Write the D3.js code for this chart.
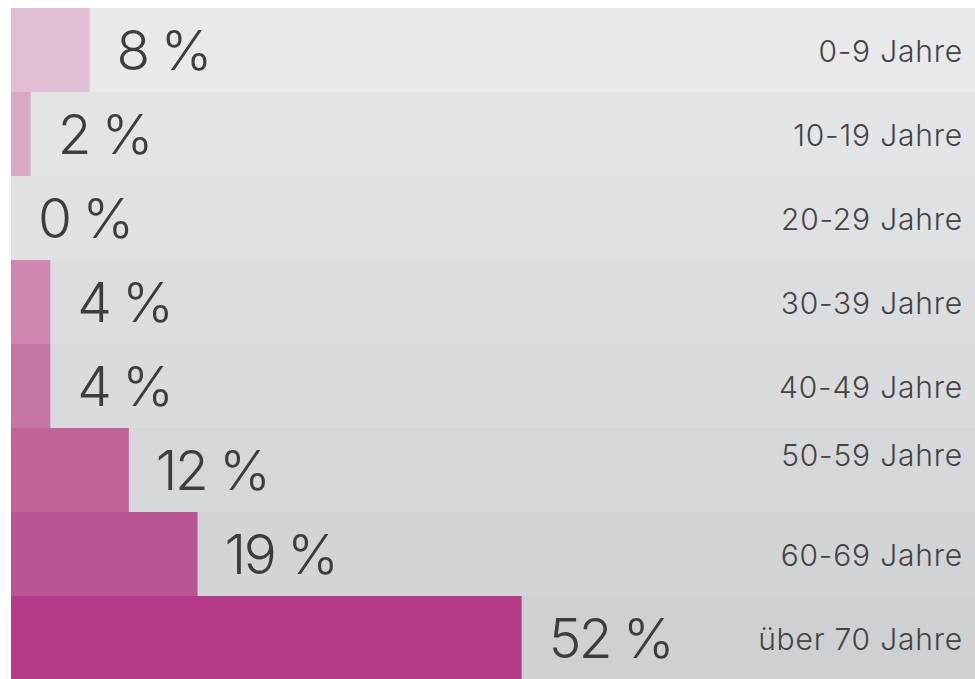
<!DOCTYPE html>
<html>
<head>
<meta charset="utf-8">
<script src="https://cdn.jsdelivr.net/npm/d3@7"></script>
<style>
  html, body { margin: 0; padding: 0; background: #fff; }
  svg { display: block; }
</style>
</head>
<body>
<div id="chart"></div>
<script>
// Altersgruppen und Anteile (in %)
const groups = ['0-9 Jahre', '10-19 Jahre', '20-29 Jahre', '30-39 Jahre', '40-49 Jahre', '50-59 Jahre', '60-69 Jahre', 'über 70 Jahre']
const shares = [8, 2, 0, 4, 4, 12, 19, 52]

const width = 975
const height = 679
const margin = { top: 8, left: 11 }
const rowH = 84

const svg = d3.select('#chart').append('svg')
  .attr('width', width)
  .attr('height', height)

// Skalen
const x = d3.scaleLinear().domain([0, 100]).range([margin.left, margin.left + 982])
const y = d3.scaleBand().domain(groups).range([margin.top, margin.top + rowH * groups.length])

const barColor = d3.scaleOrdinal()
  .domain(groups)
  .range(['#e2bed5', '#d9aac8', '#d49abc', '#cf87b0', '#c676a3', '#bf6399', '#b95593', '#b33b88'])
const bgColor = d3.scaleOrdinal()
  .domain(groups)
  .range(['#e8e9eb', '#e3e4e6', '#e0e1e3', '#dcdddf', '#dadbdd', '#d6d7d9', '#d3d4d6', '#cfd0d2'])

const data = groups.map((g, i) => ({ group: g, share: shares[i] }))

const row = svg.selectAll('g.row')
  .data(data)
  .enter()
  .append('g')
  .attr('class', 'row')

// Hintergrund der Zeile
row.append('rect')
  .attr('x', margin.left)
  .attr('y', d => y(d.group))
  .attr('width', width - margin.left)
  .attr('height', y.bandwidth())
  .attr('fill', d => bgColor(d.group))

// Balken
row.append('rect')
  .attr('x', x(0))
  .attr('y', d => y(d.group))
  .attr('width', d => x(d.share) - x(0))
  .attr('height', y.bandwidth())
  .attr('fill', d => barColor(d.group))

// Prozentwerte
row.append('text')
  .attr('x', d => x(d.share) + 27)
  .attr('y', d => y(d.group) + y.bandwidth() / 2 + 20)
  .text(d => `${d.share} %`)
  .attr('font-family', 'Inter, sans-serif')
  .attr('font-weight', 260)
  .attr('font-size', 55)
  .attr('letter-spacing', -2.5)
  .attr('fill', '#3d3d3d')

// Altersgruppe rechts (50-59 sitzt etwas höher)
row.append('text')
  .attr('x', 963)
  .attr('y', d => y(d.group) + y.bandwidth() / 2 + (d.group === '50-59 Jahre' ? -4 : 11.5))
  .style('text-anchor', 'end')
  .text(d => d.group)
  .attr('font-family', 'Inter, sans-serif')
  .attr('font-weight', 340)
  .attr('font-size', 30)
  .attr('letter-spacing', 0.8)
  .attr('fill', '#444')
</script>
</body>
</html>
